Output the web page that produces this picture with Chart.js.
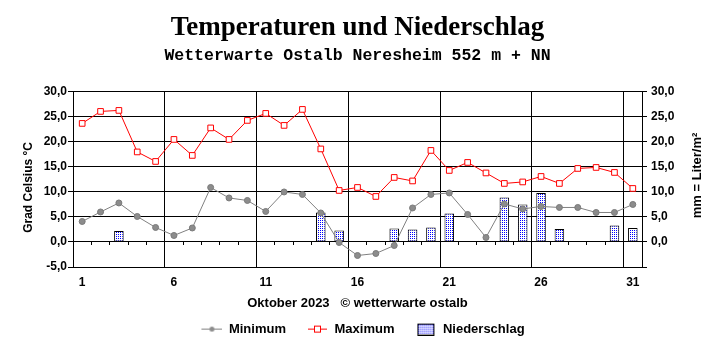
<!DOCTYPE html>
<html>
<head>
<meta charset="utf-8">
<script src="https://cdn.jsdelivr.net/npm/chart.js"></script>
<style>
html,body{margin:0;padding:0;background:#fff}
</style>
</head>
<body>
<canvas id="myChart" width="715" height="352"></canvas>
<script>
// Oktober 2023, Tageswerte
var tage=["1","2","3","4","5","6","7","8","9","10","11","12","13","14","15","16","17","18","19","20","21","22","23","24","25","26","27","28","29","30","31"];
var minimum=[4.1,6.0,7.8,5.1,2.9,1.3,2.8,10.9,8.8,8.3,6.1,10.0,9.5,5.8,-0.1,-2.7,-2.3,-0.7,6.8,9.5,9.8,5.5,0.9,7.6,6.6,7.1,6.9,6.9,5.9,5.9,7.5];
var maximum=[23.7,26.1,26.3,18.0,16.1,20.5,17.3,22.8,20.5,24.3,25.7,23.3,26.5,18.6,10.3,10.9,9.1,12.9,12.2,18.3,14.3,15.9,13.8,11.7,12.0,13.1,11.7,14.7,14.9,13.9,10.7];
var niederschlag=[0,0,2.2,0,0,0,0,0,0.1,0,0,0,0,5.9,2.3,0,0,2.7,2.5,2.9,5.7,0,0.1,8.9,7.5,9.8,2.6,0.1,0,3.3,2.8];
var skalaTicks=[-5,0,5,10,15,20,25,30];
var mmTicks=[-5,0,5,10,15,20,25,30];

Chart.defaults.font.family="'Liberation Sans', Arial, sans-serif";
Chart.defaults.font.weight="bold";
Chart.defaults.color="#000";

function komma(v){
    return v.toFixed(1).replace(".",",");
}

// Punktmuster fuer die Niederschlagsbalken
var muster=document.createElement("canvas");
muster.width=2;muster.height=2;
var mctx=muster.getContext("2d");
mctx.fillStyle="#fff";mctx.fillRect(0,0,2,2);
mctx.fillStyle="#0000ff";mctx.fillRect(0,0,1,1);
var ctx=document.getElementById("myChart").getContext("2d");
var fuellung=ctx.createPattern(muster,"repeat");

// Legendensymbole
function symbol(art){
    var c=document.createElement("canvas");
    c.width=32;c.height=13;
    var g=c.getContext("2d");
    if(art=="min"){
        g.strokeStyle="#808080";g.lineWidth=1;
        g.beginPath();g.moveTo(11,6.5);g.lineTo(32,6.5);g.stroke();
        g.fillStyle="#8c8c8c";g.beginPath();g.arc(21.5,6.5,2.5,0,Math.PI*2);g.fill();
    }else if(art=="max"){
        g.strokeStyle="#ff0000";g.lineWidth=1;
        g.beginPath();g.moveTo(12,6.5);g.lineTo(31,6.5);g.stroke();
        g.fillStyle="#fff";g.fillRect(18.5,3.5,6,6);
        g.strokeRect(18.5,3.5,6,6);
    }else{
        g.fillStyle=g.createPattern(muster,"repeat");
        g.fillRect(13,1,16,11);
        g.strokeStyle="#000";g.lineWidth=1;
        g.strokeRect(13.5,1.5,16,11);
    }
    return c;
}
var symbole=[symbol("min"),symbol("max"),symbol("nds")];

var achsenTitel={
    id:"achsenTitel",
    afterDraw:function(chart){
        var c=chart.ctx,a=chart.chartArea,mitte=(a.top+a.bottom)/2;
        c.save();
        c.fillStyle="#000";
        c.textAlign="center";
        c.textBaseline="middle";
        c.font="bold 12px 'Liberation Sans'";
        c.translate(29,mitte+8);
        c.rotate(-Math.PI/2);
        c.fillText("Grad Celsius °C",0,0);
        c.restore();
        c.save();
        c.fillStyle="#000";
        c.textAlign="center";
        c.textBaseline="middle";
        c.font="bold 13px 'Liberation Sans'";
        c.translate(chart.scales.y2.left+55,mitte-4);
        c.rotate(-Math.PI/2);
        c.fillText("mm = Liter/m²",0,0);
        c.restore();
    }
};

var chart=new Chart(ctx,{
    type:"line",
    data:{
        labels:tage,
        datasets:[{
            label:"Minimum",
            data:minimum,
            borderColor:"#808080",
            borderWidth:1,
            pointRadius:3,
            pointBackgroundColor:"#8c8c8c",
            pointBorderColor:"#7a7a7a",
            pointBorderWidth:1,
            tension:0,
            order:2
        },{
            label:"Maximum",
            data:maximum,
            borderColor:"#ff0000",
            borderWidth:1,
            pointStyle:"rect",
            pointRadius:4,
            pointBackgroundColor:"#fff",
            pointBorderColor:"#ff0000",
            pointBorderWidth:1,
            tension:0,
            order:1
        },{
            type:"bar",
            label:"Niederschlag",
            data:niederschlag,
            yAxisID:"y2",
            backgroundColor:fuellung,
            borderColor:"#000",
            borderWidth:1,
            borderSkipped:false,
            categoryPercentage:1,
            barPercentage:0.52,
            order:3
        }]
    },
    options:{
        responsive:false,
        animation:false,
        layout:{padding:{left:0,right:0,top:0,bottom:6.4}},
        plugins:{
            title:{
                display:true,
                text:"Temperaturen und Niederschlag",
                font:{family:"'Liberation Serif', 'Times New Roman', serif",size:27,weight:"bold"},
                padding:{top:11.5,bottom:0}
            },
            subtitle:{
                display:true,
                text:"Wetterwarte Ostalb Neresheim 552 m + NN",
                font:{family:"'Liberation Mono', 'Courier New', monospace",size:16.5,weight:"bold"},
                color:"#000",
                padding:{top:2.2,bottom:26}
            },
            legend:{
                position:"bottom",
                title:{
                    display:true,
                    text:"Oktober 2023   © wetterwarte ostalb",
                    font:{size:13,weight:"bold"},
                    padding:{top:11,bottom:0}
                },
                labels:{
                    usePointStyle:true,
                    pointStyleWidth:32,
                    padding:10,
                    font:{size:13,weight:"bold"},
                    generateLabels:function(chart){
                        return chart.data.datasets.map(function(ds,i){
                            return {text:ds.label,pointStyle:symbole[i],datasetIndex:i,hidden:false,
                                lineWidth:0,strokeStyle:"transparent",fillStyle:"transparent",fontColor:"#000"};
                        });
                    }
                }
            },
            tooltip:{enabled:false}
        },
        scales:{
            x:{
                type:"category",
                offset:true,
                afterFit:function(s){s.height=19;},
                grid:{
                    offset:true,
                    drawTicks:false,
                    lineWidth:1,
                    color:function(c){return c.index%5===0?"#000":"rgba(0,0,0,0)";}
                },
                border:{display:true,color:"#000"},
                ticks:{
                    autoSkip:false,
                    maxRotation:0,
                    padding:8,
                    font:{size:12,weight:"bold"},
                    callback:function(v,i){return i%5===0?this.getLabelForValue(v):"";}
                }
            },
            x2:{
                type:"category",
                axis:"x",
                position:{y:0},
                offset:true,
                grid:{offset:true,drawOnChartArea:false,tickLength:3,color:"#000"},
                border:{display:true,color:"#000"},
                ticks:{display:false}
            },
            y:{
                position:"left",
                min:-5,
                max:30,
                afterFit:function(s){s.width=73;},
                afterBuildTicks:function(s){s.ticks=skalaTicks.map(function(v){return {value:v};});},
                grid:{color:"#000",tickColor:"#000",tickLength:5},
                border:{display:true,color:"#000"},
                ticks:{padding:1,font:{size:12,weight:"bold"},callback:function(v){return komma(v);}}
            },
            y2:{
                position:"right",
                min:-5,
                max:30,
                afterFit:function(s){s.width=73;},
                afterBuildTicks:function(s){s.ticks=mmTicks.map(function(v){return {value:v};});},
                grid:{drawOnChartArea:false,tickColor:"#000",tickLength:5},
                border:{display:true,color:"#000"},
                ticks:{padding:4,font:{size:12,weight:"bold"},callback:function(v){return v<0?"":komma(v);}}
            }
        }
    },
    plugins:[achsenTitel]
});
</script>
</body>
</html>
